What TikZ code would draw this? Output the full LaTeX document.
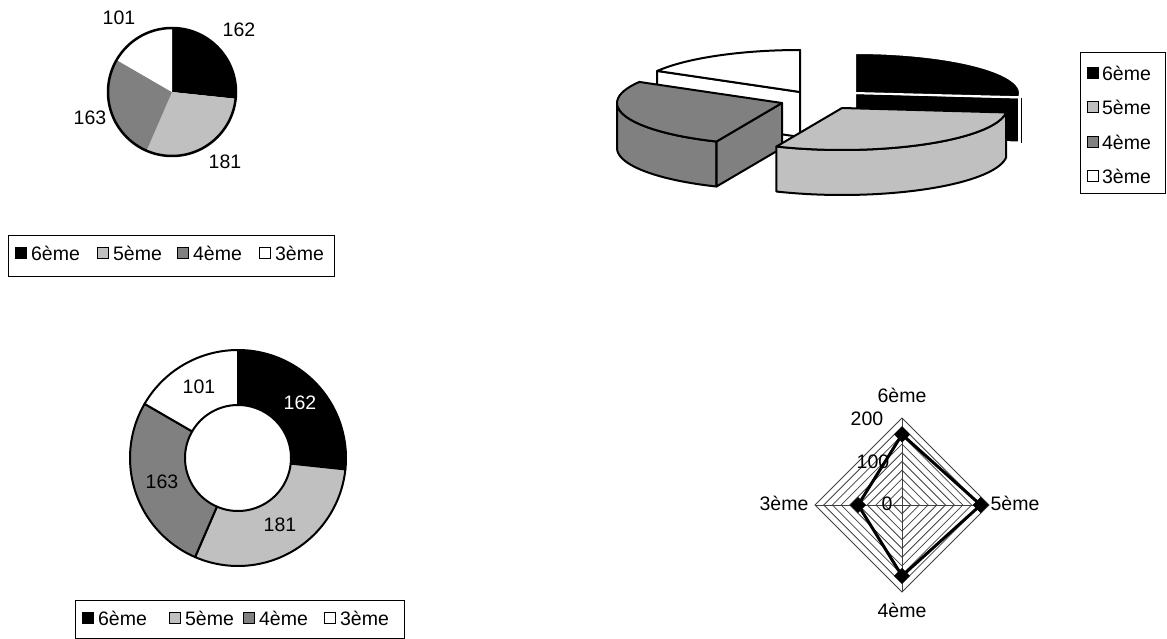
\documentclass[tikz,border=0pt]{standalone}
\usepackage{fontspec}
\setmainfont{Liberation Sans}
\usetikzlibrary{positioning}

\definecolor{cSix}{RGB}{0,0,0}
\definecolor{cFive}{RGB}{192,192,192}
\definecolor{cFour}{RGB}{128,128,128}
\definecolor{cThree}{RGB}{255,255,255}

\begin{document}
\begin{tikzpicture}[
    x=1pt, y=-1pt,
    font=\fontsize{19.5}{22}\selectfont,
    wedge/.style={line width=2pt, line join=round},
    legframe/.style={draw, line width=1pt},
    legkey/.style={draw, line width=0.8pt, minimum size=11pt, inner sep=0pt},
    legtext/.style={inner sep=1pt, anchor=west},
    val/.style={inner sep=1pt},
    radargrid/.style={draw=black!75, line width=0.8pt}
]
    \useasboundingbox (0,0) rectangle (1167,639);

    % Pie (top left): 162, 181, 163, 101
    \fill[cSix] (172,92) -- plot[domain=-90:6.08, samples=40] ({172+64*cos(\x)},{92+64*sin(\x)}) -- cycle;
    \fill[cFive] (172,92) -- plot[domain=6.08:113.43, samples=40] ({172+64*cos(\x)},{92+64*sin(\x)}) -- cycle;
    \fill[cFour] (172,92) -- plot[domain=113.43:210.1, samples=40] ({172+64*cos(\x)},{92+64*sin(\x)}) -- cycle;
    \fill[cThree] (172,92) -- plot[domain=210.1:270, samples=40] ({172+64*cos(\x)},{92+64*sin(\x)}) -- cycle;
    \draw[line width=2.5pt] (172,92) circle[radius=64];
    \node[val] (p162) at (239,30) {162};
    \node[val] (p101) at (119,18) {101};
    \node[val] (p163) at (90,118) {163};
    \node[val] (p181) at (225,162) {181};

    % Legend of the pie
    \draw[legframe] (8,235) rectangle (334,276);
    \node[legkey, fill=cSix] (pk6) at (21,253) {};
    \node[legtext, right=3pt of pk6] (pt6) {6ème};
    \node[legkey, fill=cFive] (pk5) at (103,253) {};
    \node[legtext, right=3pt of pk5] (pt5) {5ème};
    \node[legkey, fill=cFour] (pk4) at (183,253) {};
    \node[legtext, right=3pt of pk4] (pt4) {4ème};
    \node[legkey, fill=cThree] (pk3) at (265,253) {};
    \node[legtext, right=3pt of pk3] (pt3) {3ème};

    % 3D pie, exploded slices (back to front)
    % 3eme
    \filldraw[wedge, fill=cThree] (800,92) -- (657.2,70.9) -- (657.2,115.9) -- (800,137) -- cycle;
    \filldraw[wedge, fill=cThree] (800,92) -- plot[domain=210.1:270, samples=30] ({800+165*cos(\x)},{92+42*sin(\x)}) -- cycle;
    % 6eme
    \filldraw[wedge, fill=cSix, draw=white] (855,93) -- (1019.1,97.5) -- (1019.1,142.5) -- (855,138) -- cycle;
    \filldraw[wedge, fill=cSix, draw=white] (855,93) -- plot[domain=-90:6.1, samples=40] ({855+165*cos(\x)},{93+40*sin(\x)}) -- cycle;
    \draw[line width=1pt] (1021,98) -- (1021,143);
    % 4eme
    \filldraw[wedge, fill=cFour] plot[domain=113.4:180, samples=30] ({782+165*cos(\x)},{103+42*sin(\x)})
        -- plot[domain=180:113.4, samples=30] ({782+165*cos(\x)},{148+42*sin(\x)}) -- cycle;
    \filldraw[wedge, fill=cFour] (782,103) -- (716.5,141.5) -- (716.5,186.5) -- (782,148) -- cycle;
    \filldraw[wedge, fill=cFour] (782,103) -- plot[domain=113.4:210.1, samples=30] ({782+165*cos(\x)},{103+42*sin(\x)}) -- cycle;
    % 5eme
    \filldraw[wedge, fill=cFive] plot[domain=6.1:113.4, samples=40] ({842+165*cos(\x)},{108+42*sin(\x)})
        -- plot[domain=113.4:6.1, samples=40] ({842+165*cos(\x)},{153+42*sin(\x)}) -- cycle;
    \filldraw[wedge, fill=cFive] (842,108) -- plot[domain=6.1:113.4, samples=40] ({842+165*cos(\x)},{108+42*sin(\x)}) -- cycle;

    % Legend of the 3D pie
    \draw[legframe] (1080,53) rectangle (1165,194);
    \node[legkey, fill=cSix] (tk6) at (1093,73) {};
    \node[legtext, right=2pt of tk6] (tt6) {6ème};
    \node[legkey, fill=cFive] (tk5) at (1093,107) {};
    \node[legtext, right=2pt of tk5] (tt5) {5ème};
    \node[legkey, fill=cFour] (tk4) at (1093,142) {};
    \node[legtext, right=2pt of tk4] (tt4) {4ème};
    \node[legkey, fill=cThree] (tk3) at (1093,176) {};
    \node[legtext, right=2pt of tk3] (tt3) {3ème};

    % Doughnut
    \filldraw[wedge, fill=cSix] plot[domain=-90:6.08, samples=40] ({238+108*cos(\x)},{458+108*sin(\x)})
        -- plot[domain=6.08:-90, samples=40] ({238+53*cos(\x)},{458+53*sin(\x)}) -- cycle;
    \filldraw[wedge, fill=cFive] plot[domain=6.08:113.43, samples=40] ({238+108*cos(\x)},{458+108*sin(\x)})
        -- plot[domain=113.43:6.08, samples=40] ({238+53*cos(\x)},{458+53*sin(\x)}) -- cycle;
    \filldraw[wedge, fill=cFour] plot[domain=113.43:210.1, samples=40] ({238+108*cos(\x)},{458+108*sin(\x)})
        -- plot[domain=210.1:113.43, samples=40] ({238+53*cos(\x)},{458+53*sin(\x)}) -- cycle;
    \filldraw[wedge, fill=cThree] plot[domain=210.1:270, samples=40] ({238+108*cos(\x)},{458+108*sin(\x)})
        -- plot[domain=270:210.1, samples=40] ({238+53*cos(\x)},{458+53*sin(\x)}) -- cycle;
    \node[val, text=white] (d162) at (300,403) {162};
    \node[val] (d101) at (199,387) {101};
    \node[val] (d163) at (162,482) {163};
    \node[val] (d181) at (280,525) {181};

    % Legend of the doughnut
    \draw[legframe] (75,600) rectangle (404,638);
    \node[legkey, fill=cSix] (dk6) at (88,618) {};
    \node[legtext, right=3pt of dk6] (dt6) {6ème};
    \node[legkey, fill=cFive] (dk5) at (175,618) {};
    \node[legtext, right=3pt of dk5] (dt5) {5ème};
    \node[legkey, fill=cFour] (dk4) at (249,618) {};
    \node[legtext, right=3pt of dk4] (dt4) {4ème};
    \node[legkey, fill=cThree] (dk3) at (330,618) {};
    \node[legtext, right=3pt of dk3] (dt3) {3ème};

    % Radar
    \foreach \k in {1,...,10}
        \draw[radargrid] (902,{505-8.7*\k}) -- ({902+8.7*\k},505) -- (902,{505+8.7*\k}) -- ({902-8.7*\k},505) -- cycle;
    \coordinate (rc) at (902,505);
    \coordinate (rt) at (902,418);
    \coordinate (rr) at (989,505);
    \coordinate (rb) at (902,592);
    \coordinate (rl) at (815,505);
    \draw[radargrid] (rt) -- (rb) (rl) -- (rr);
    \node[val] (r6) at (902,395) {6ème};
    \node[val] (r5) at (1015,503) {5ème};
    \node[val] (r4) at (902,610) {4ème};
    \node[val] (r3) at (784,503) {3ème};
    \node[val] (a200) at (867,419) {200};
    \node[val] (a100) at (873,462) {100};
    \node[val] (a0) at (887,504) {0};
    \coordinate (d6) at (902,434.5);
    \coordinate (d5) at (980.7,505);
    \coordinate (d4) at (902,575.9);
    \coordinate (d3) at (858.1,505);
    \draw[line width=3pt, line join=round] (d6) -- (d5) -- (d4) -- (d3) -- cycle;
    \foreach \p in {d6,d5,d4,d3}
        \fill (\p) ++(0,-8) -- ++(8,8) -- ++(-8,8) -- ++(-8,-8) -- cycle;
\end{tikzpicture}
\end{document}
